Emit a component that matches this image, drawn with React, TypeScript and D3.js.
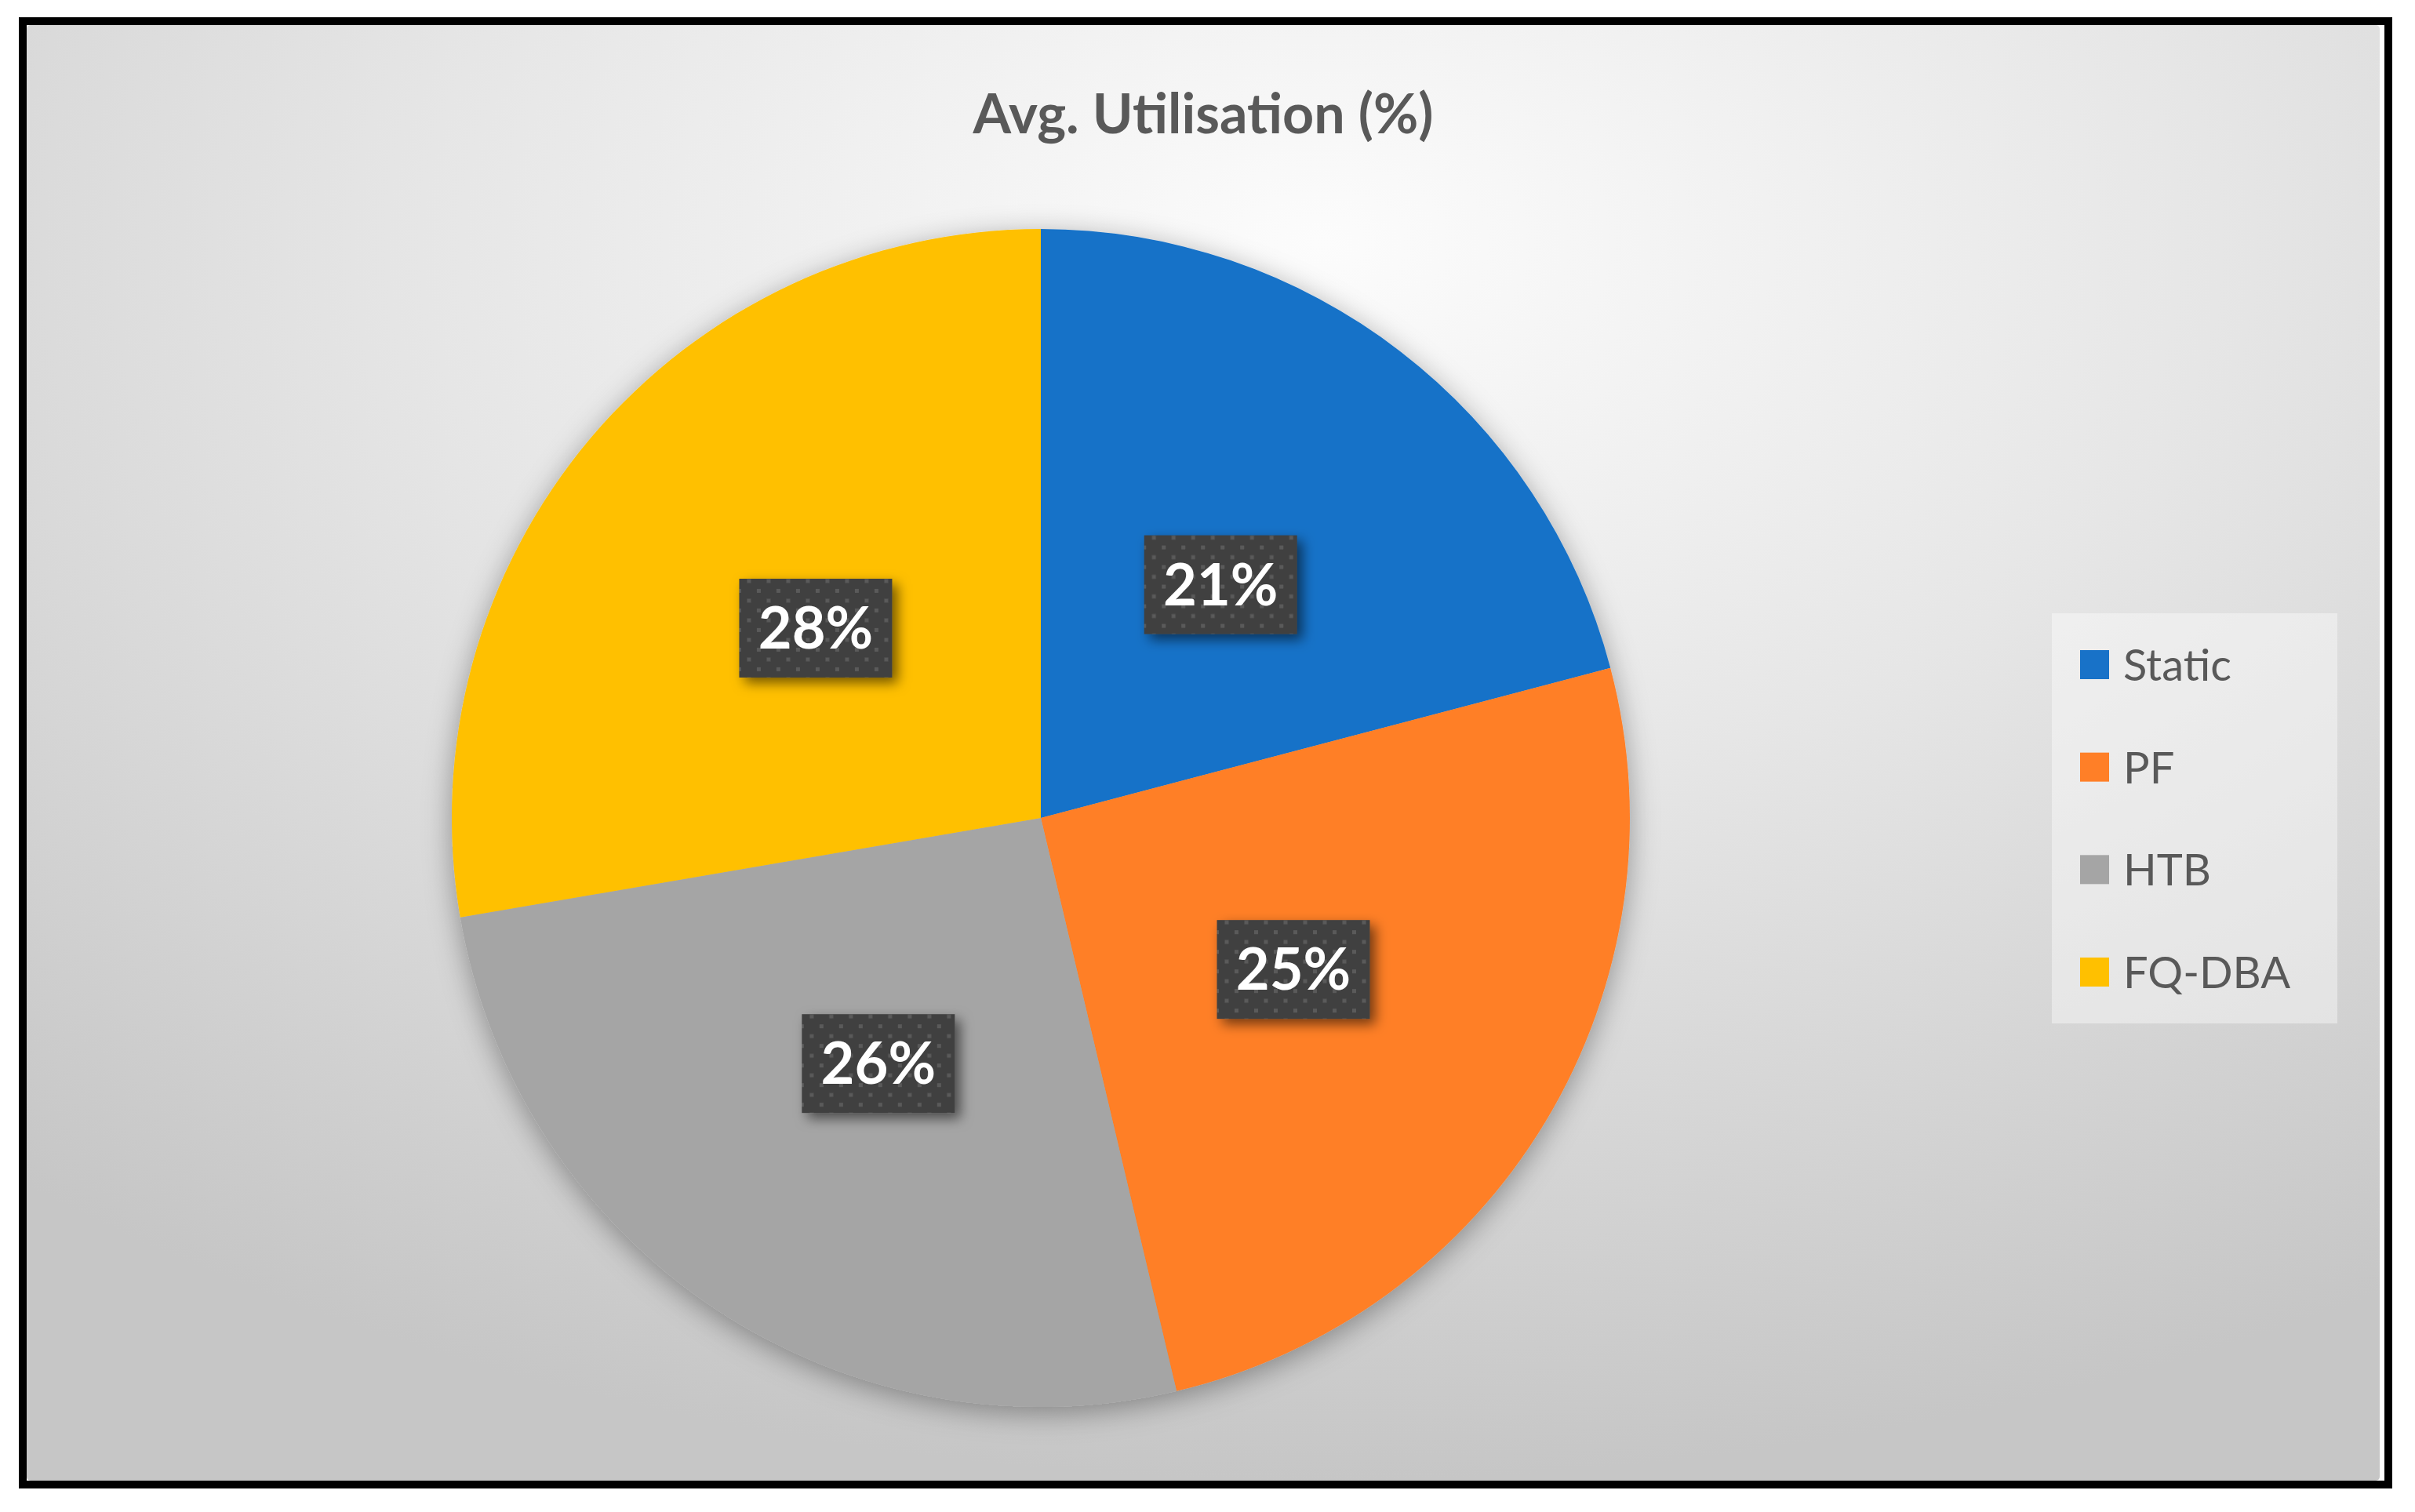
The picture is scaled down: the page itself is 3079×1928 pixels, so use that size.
import React from 'react';
import * as d3 from 'd3';

// slice values (shares of the pie)
const categories = ['Static', 'PF', 'HTB', 'FQ-DBA'];
const utilisation = [20.9, 25.4, 26.0, 27.7];
const sliceColors = ['#1872C8', '#FF7F27', '#A5A5A5', '#FFC000'];
const chartTitle = 'Avg. Utilisation (%)';

const W = 3079;
const H = 1928;

const App = () => {
  const cx = 1327;
  const cy = 1043;
  const radius = 751;

  const rows = categories.map((name, i) => ({ name, value: utilisation[i], color: sliceColors[i] }));
  const total = d3.sum(utilisation);
  const pct = d3.format('.0%');

  const pie = d3.pie<any>().sort(null).value(d => d.value);
  const arcs = pie(rows);
  const arc = d3.arc<any>().innerRadius(0).outerRadius(radius);

  const legendY = d3.scalePoint<string>()
    .domain(categories)
    .range([848, 1240]);

  const boxW = 195;
  const boxH = 126;

  return (
    <svg width={W} height={H} style={{ position: 'absolute', left: 0, top: 0, background: '#fff' }}>
      <defs>
        <radialGradient id="bg" cx="0.55" cy="0.15" r="0.85" gradientUnits="objectBoundingBox">
          <stop offset="0" stopColor="#fcfcfc" />
          <stop offset="0.45" stopColor="#e6e6e6" />
          <stop offset="1" stopColor="#c6c6c6" />
        </radialGradient>
        <filter id="pieShadow" x="-20%" y="-20%" width="140%" height="140%">
          <feDropShadow dx="0" dy="8" stdDeviation="18" floodColor="#000" floodOpacity="0.35" />
        </filter>
        <filter id="boxShadow" x="-30%" y="-30%" width="160%" height="160%">
          <feDropShadow dx="7" dy="7" stdDeviation="8" floodColor="#000" floodOpacity="0.55" />
        </filter>
        <pattern id="dots" width="25" height="25" patternUnits="userSpaceOnUse">
          <rect width="25" height="25" fill="#404040" />
          <rect x="0" y="0" width="5" height="5" fill="#5a5a5a" />
          <rect x="12.5" y="12.5" width="5" height="5" fill="#5a5a5a" />
        </pattern>
      </defs>

      {/* frame */}
      <rect x={29} y={27} width={3016} height={1866} fill="#fff" stroke="#000" strokeWidth={10} />
      <rect x={34} y={32} width={3000} height={1856} rx={5} fill="url(#bg)" />

      <text
        x={1534}
        y={170}
        textAnchor="middle"
        fontFamily="Lato, 'Open Sans', sans-serif"
        fontWeight={700}
        fontSize={70}
        fill="#595959"
      >
        {chartTitle}
      </text>

      <g transform={`translate(${cx},${cy})`}>
        <g filter="url(#pieShadow)">
          {arcs.map(a => (
            <path key={a.data.name} d={arc(a) as string} fill={a.data.color} />
          ))}
        </g>
        {arcs.map(a => {
          const [lx, ly] = arc.centroid(a);
          return (
            <g key={'lbl' + a.data.name} transform={`translate(${lx},${ly})`}>
              <rect
                x={-boxW / 2}
                y={-boxH / 2}
                width={boxW}
                height={boxH}
                fill="url(#dots)"
                filter="url(#boxShadow)"
              />
              <text
                y={26}
                textAnchor="middle"
                fontFamily="Lato, 'Open Sans', sans-serif"
                fontWeight={700}
                fontSize={74}
                fill="#fff"
              >
                {pct(a.data.value / total)}
              </text>
            </g>
          );
        })}
      </g>

      {/* legend */}
      <rect x={2616} y={782} width={364} height={523} fill="#ffffff" fillOpacity={0.4} />
      {rows.map(r => (
        <g key={'leg' + r.name} transform={`translate(2652,${legendY(r.name)})`}>
          <rect x={0} y={-19} width={37} height={37} fill={r.color} />
          <text
            x={55}
            y={20}
            fontFamily="Lato, 'Open Sans', sans-serif"
            fontSize={56}
            fill="#595959"
          >
            {r.name}
          </text>
        </g>
      ))}
    </svg>
  );
};

export default App;
